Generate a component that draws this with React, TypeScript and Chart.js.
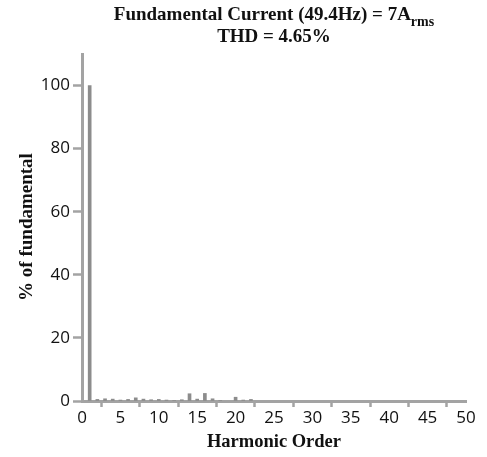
import React, { useEffect, useRef } from "react";
import { Chart, registerables } from "chart.js";

Chart.register(...registerables);

const harmonics = [1, 2, 3, 4, 5, 6, 7, 8, 9, 10, 11, 12, 13, 14, 15, 16, 17, 18, 20, 21, 22];
const percentOfFundamental = [100, 0.5, 0.7, 0.6, 0.3, 0.5, 1.0, 0.6, 0.4, 0.5, 0.3, 0.2, 0.4, 2.3, 0.6, 2.4, 0.7, 0.2, 1.2, 0.3, 0.5];
const titleMain = "Fundamental Current (49.4Hz) = 7A";
const titleSub = "rms";
const titleLine2 = "THD = 4.65%";
const xTitle = "Harmonic Order";
const yTitle = "% of fundamental";

const AXIS = "#a3a3a3";
const BAR = "#8c8c8c";

const textPlugin = {
  id: "customText",
  afterDraw(chart: any) {
    const ctx = chart.ctx;
    const area = chart.chartArea;
    const cx = (area.left + area.right) / 2;
    ctx.save();
    ctx.fillStyle = "#111";
    ctx.textBaseline = "alphabetic";
    ctx.font = "bold 19px 'Liberation Serif'";
    const w1 = ctx.measureText(titleMain).width;
    ctx.font = "bold 14px 'Liberation Serif'";
    const w2 = ctx.measureText(titleSub).width;
    const start = cx - (w1 + w2) / 2;
    ctx.font = "bold 19px 'Liberation Serif'";
    ctx.textAlign = "left";
    ctx.fillText(titleMain, start, 20);
    ctx.font = "bold 14px 'Liberation Serif'";
    ctx.fillText(titleSub, start + w1, 26);
    ctx.font = "bold 19px 'Liberation Serif'";
    ctx.textAlign = "center";
    ctx.fillText(titleLine2, cx, 42);
    ctx.font = "bold 18.5px 'Liberation Serif'";
    ctx.fillText(xTitle, cx, 447);
    ctx.font = "bold 19px 'Liberation Serif'";
    ctx.translate(32, 227);
    ctx.rotate(-Math.PI / 2);
    ctx.fillText(yTitle, 0, 0);
    ctx.restore();
  },
};

export default function App() {
  const ref = useRef<HTMLCanvasElement>(null);
  useEffect(() => {
    if (!ref.current) return;
    const chart = new Chart(ref.current, {
      type: "bar",
      data: {
        datasets: [
          {
            data: harmonics.map((h, i) => ({ x: h, y: percentOfFundamental[i] })),
            backgroundColor: BAR,
            barThickness: 3,
            grouped: false,
          } as any,
        ],
      },
      options: {
        animation: false,
        responsive: false,
        maintainAspectRatio: false,
        layout: { padding: { top: 54, right: 21, left: 0, bottom: 0 } },
        plugins: { legend: { display: false }, tooltip: { enabled: false } },
        scales: {
          x: {
            type: "linear",
            min: 0,
            max: 50,
            offset: false,
            grid: {
              display: true,
              drawOnChartArea: false,
              drawTicks: true,
              tickLength: 6,
              tickWidth: 2.5,
              tickColor: AXIS,
            },
            border: { display: true, color: AXIS, width: 3 },
            ticks: {
              stepSize: 5,
              color: "#111",
              font: { family: "'Open Sans'", size: 17 },
              padding: 1,
              maxRotation: 0,
            },
            afterFit: (s: any) => {
              s.height = 56;
            },
          },
          y: {
            min: 0,
            max: 110,
            grid: {
              display: true,
              drawOnChartArea: false,
              drawTicks: true,
              tickLength: 9,
              tickWidth: 2.5,
              tickColor: AXIS,
            },
            border: { display: true, color: AXIS, width: 3 },
            ticks: {
              stepSize: 20,
              color: "#111",
              font: { family: "'Open Sans'", size: 17 },
              padding: 3,
            },
            afterBuildTicks: (s: any) => {
              s.ticks = s.ticks.filter((t: any) => t.value % 20 === 0);
            },
            afterFit: (s: any) => {
              s.width = 82;
            },
          },
        },
      },
      plugins: [textPlugin],
    });
    return () => chart.destroy();
  }, []);
  return (
    <div style={{ position: "absolute", left: 0, top: 0, width: 487, height: 457, background: "#fff" }}>
      <canvas ref={ref} width={487} height={457} style={{ width: 487, height: 457 }} />
    </div>
  );
}
